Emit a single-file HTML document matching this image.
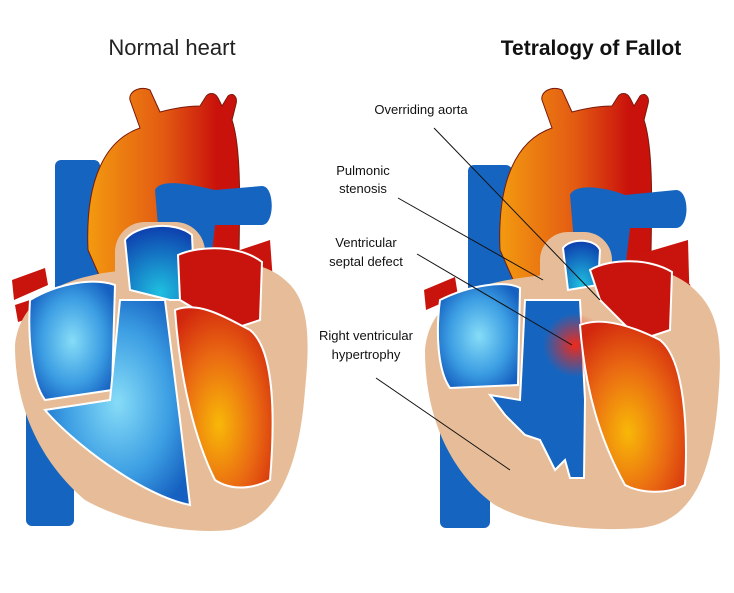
<!DOCTYPE html>
<html><head><meta charset="utf-8"><style>
html,body{margin:0;padding:0;background:#fff;}
svg{display:block;font-family:"Liberation Sans","DejaVu Sans",sans-serif;}
</style></head><body>
<svg width="734" height="593" viewBox="0 0 734 593" xmlns="http://www.w3.org/2000/svg">
<defs>
<linearGradient id="ao" x1="0" y1="0" x2="1" y2="0">
<stop offset="0" stop-color="#f39a10"/><stop offset="0.5" stop-color="#e35a12"/><stop offset="0.85" stop-color="#c9120c"/></linearGradient>
<radialGradient id="bl" cx="0.5" cy="0.5" r="0.6">
<stop offset="0" stop-color="#86dcf7"/><stop offset="0.6" stop-color="#3c9ee3"/><stop offset="1" stop-color="#1560c0"/></radialGradient>
<radialGradient id="or" cx="0.45" cy="0.65" r="0.7">
<stop offset="0" stop-color="#f8b808"/><stop offset="0.55" stop-color="#ea6a12"/><stop offset="1" stop-color="#d2260e"/></radialGradient>
<radialGradient id="pa" cx="0.5" cy="0.9" r="0.9">
<stop offset="0" stop-color="#1fc0e0"/><stop offset="1" stop-color="#0d3fae"/></radialGradient>
<radialGradient id="vsd" cx="0.5" cy="0.5" r="0.5">
<stop offset="0" stop-color="#f02a1a"/><stop offset="1" stop-color="#f02a1a" stop-opacity="0"/></radialGradient>
</defs>
<rect width="734" height="593" fill="#fff"/>
<text x="172" y="55" font-size="22" text-anchor="middle" fill="#222">Normal heart</text>
<text x="591" y="55" font-size="21" font-weight="bold" text-anchor="middle" fill="#111">Tetralogy of Fallot</text>

<!-- LEFT HEART -->
<g>
<rect x="26" y="300" width="48" height="226" rx="6" fill="#1565c0"/>
<rect x="55" y="160" width="45" height="160" rx="6" fill="#1565c0"/>
<path d="M12,280 L45,268 L48,285 L14,300Z M15,305 L45,295 L48,312 L18,322Z" fill="#c8140c"/>
<path d="M262,292 L290,286 L292,304 L264,308Z" fill="#c8140c"/>
<path d="M88,250 C85,180 105,140 140,128 L130,100 C128,92 140,85 150,90 L160,112 C175,108 190,106 200,106 L205,98 C208,92 215,92 218,98 L222,106 L228,96 C232,92 238,96 236,104 L232,120 C242,150 240,210 238,300 L110,300Z" fill="url(#ao)" stroke="#7a1a0a" stroke-width="1"/>
<path d="M210,260 L270,240 L275,310 L230,300Z" fill="#c8140c"/>
<path d="M155,190 C160,178 190,184 215,190 L262,186 C275,186 275,225 262,225 L215,225 L210,270 L160,250Z" fill="#1565c0"/>
<path d="M15,345 C20,300 60,275 130,270 C170,262 250,248 285,280 C310,300 310,340 305,390 C300,460 280,520 230,530 C180,535 120,520 85,500 C50,470 15,420 15,345Z" fill="#e6bd98"/>
<rect x="115" y="222" width="90" height="90" rx="30" fill="#e6bd98"/>
<path d="M30,300 C60,282 95,278 115,285 L112,390 L45,400 C30,380 28,330 30,300Z" fill="url(#bl)" stroke="#fff" stroke-width="2"/>
<path d="M125,240 C135,225 175,220 192,235 L195,300 L170,300 L130,290Z" fill="url(#pa)" stroke="#fff" stroke-width="2"/>
<path d="M120,300 L165,300 L180,420 L190,505 C140,495 70,440 45,410 L110,400Z" fill="url(#bl)" stroke="#fff" stroke-width="2"/>
<path d="M178,255 C200,245 240,245 262,262 L260,320 L230,330 L180,300Z" fill="#c8140c" stroke="#fff" stroke-width="2"/>
<path d="M175,310 C200,300 230,320 250,330 C275,350 275,420 270,480 C250,490 230,490 215,480 C195,440 180,380 175,310Z" fill="url(#or)" stroke="#fff" stroke-width="2"/>
</g>

<!-- RIGHT HEART -->
<g>
<rect x="440" y="300" width="50" height="228" rx="6" fill="#1565c0"/>
<rect x="468" y="165" width="44" height="160" rx="6" fill="#1565c0"/>
<path d="M424,290 L455,277 L458,296 L426,310Z" fill="#c8140c"/>
<path d="M650,292 L690,284 L693,302 L652,306Z" fill="#c8140c"/>
<path d="M500,250 C497,180 517,140 552,128 L542,100 C540,92 552,85 562,90 L572,112 C587,108 602,106 612,106 L617,98 C620,92 627,92 630,98 L634,106 L640,96 C644,92 650,96 648,104 L644,120 C654,150 652,210 650,300 L522,300Z" fill="url(#ao)" stroke="#7a1a0a" stroke-width="1"/>
<path d="M620,260 L688,240 L690,315 L640,305Z" fill="#c8140c"/>
<path d="M570,195 C575,183 605,187 625,195 L676,190 C690,190 690,228 676,228 L630,228 L625,270 L575,255Z" fill="#1565c0"/>
<path d="M425,350 C430,300 470,282 545,275 C590,265 660,255 695,290 C722,315 722,350 718,400 C712,470 695,522 640,528 C590,532 530,525 495,505 C460,480 425,430 425,350Z" fill="#e6bd98"/>
<rect x="540" y="232" width="72" height="80" rx="28" fill="#e6bd98"/>
<path d="M440,300 C470,285 505,280 520,288 L518,385 L450,388 C437,370 436,330 440,300Z" fill="url(#bl)" stroke="#fff" stroke-width="2"/>
<path d="M563,248 C570,238 595,238 600,250 L598,285 L568,290Z" fill="url(#pa)" stroke="#fff" stroke-width="2"/>
<path d="M525,300 L580,300 L585,400 L584,478 L570,478 L565,460 L555,470 L540,440 L525,435 L505,415 L490,395 L520,400Z" fill="#1565c0" stroke="#fff" stroke-width="2"/>
<circle cx="575" cy="345" r="32" fill="url(#vsd)"/>
<path d="M590,270 C610,258 650,258 672,272 L670,330 L640,340 L600,300Z" fill="#c8140c" stroke="#fff" stroke-width="2"/>
<path d="M580,325 C605,315 640,330 660,340 C685,360 688,430 685,485 C665,495 640,493 625,485 C600,440 585,390 580,325Z" fill="url(#or)" stroke="#fff" stroke-width="2"/>
</g>

<!-- labels -->
<g font-size="13" fill="#111" text-anchor="middle">
<text x="421" y="114">Overriding aorta</text>
<text x="363" y="175">Pulmonic</text>
<text x="363" y="193">stenosis</text>
<text x="366" y="247">Ventricular</text>
<text x="366" y="266">septal defect</text>
<text x="366" y="340">Right ventricular</text>
<text x="366" y="359">hypertrophy</text>
</g>
<g stroke="#111" stroke-width="1">
<line x1="434" y1="128" x2="600" y2="300"/>
<line x1="398" y1="198" x2="543" y2="280"/>
<line x1="417" y1="254" x2="572" y2="345"/>
<line x1="376" y1="378" x2="510" y2="470"/>
</g>
</svg>
</body></html>
